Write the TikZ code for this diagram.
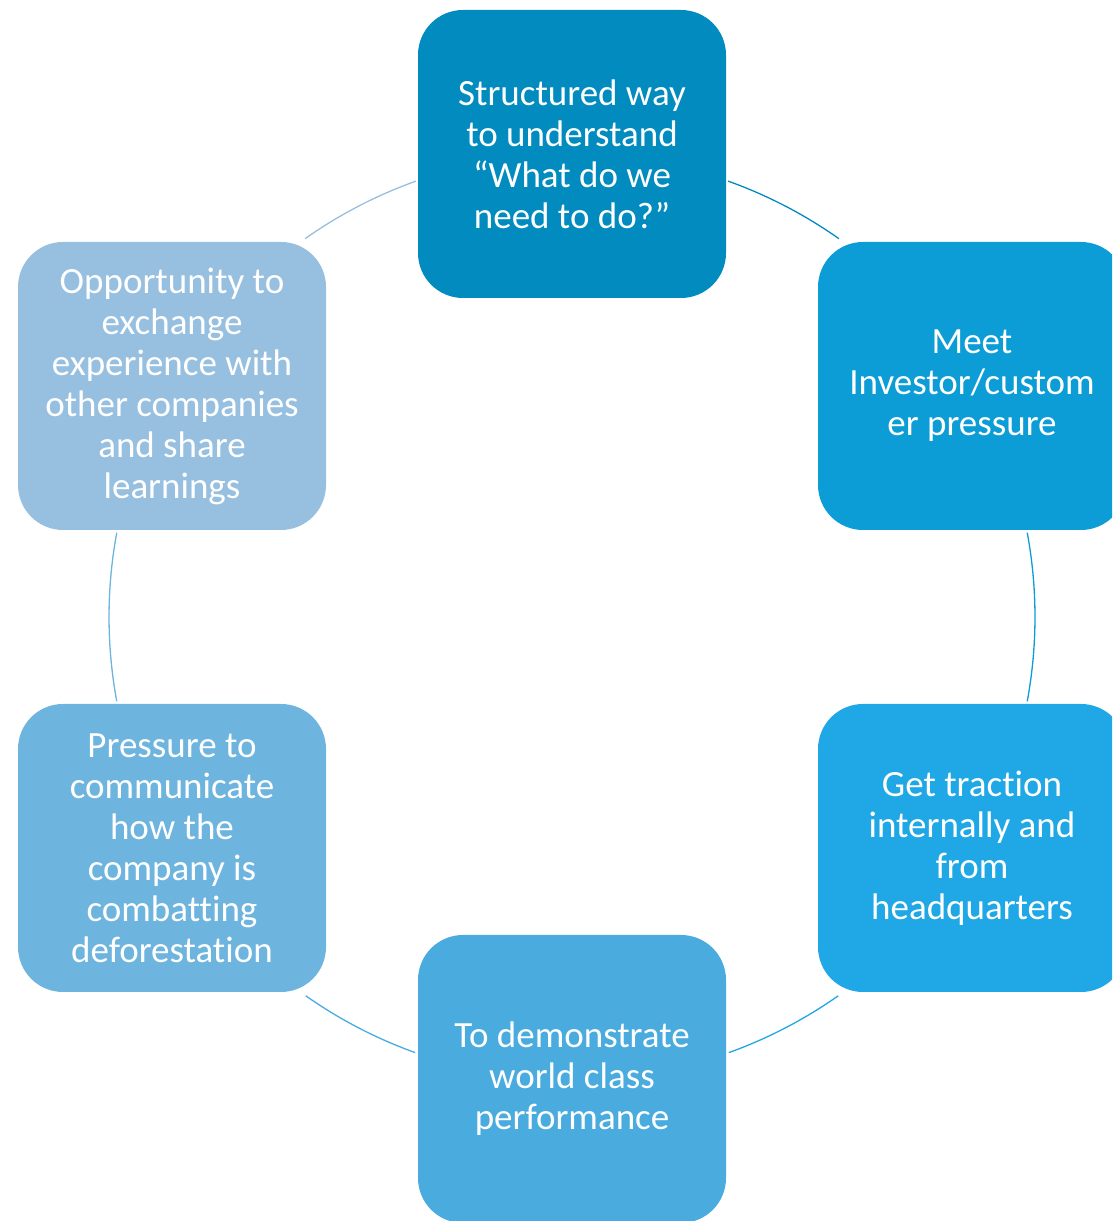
\documentclass[tikz,border=0pt]{standalone}
\usepackage{fontspec}
\setmainfont{Carlito}[RawFeature={-liga;-clig;-calt;-dlig}]
\definecolor{cA}{HTML}{028BBE}
\definecolor{cB}{HTML}{0C9DD6}
\definecolor{cC}{HTML}{1FA8E5}
\definecolor{cD}{HTML}{4AABDF}
\definecolor{cE}{HTML}{6DB4DE}
\definecolor{cF}{HTML}{97C0E0}
\begin{document}
\begin{tikzpicture}[x=1pt,y=1pt,
  cyclebox/.style={rectangle, rounded corners=45pt, minimum width=308pt,
    minimum height=288pt, inner sep=0pt, align=center, text=white,
    font=\fontsize{37}{41}\selectfont},
  link/.style={line width=1.3pt}]
\useasboundingbox (0,0) rectangle (1112,1221);
\clip (0,0) rectangle (1112,1221);
\coordinate (c) at (572,604);
\def\R{463}
% connecting arcs on the ring, each in the colour of the box it leaves
\draw[link, cA] ([shift={(c)}]70.3:\R) arc[start angle=70.3, end angle=54.8, radius=\R];
\draw[link, cB] ([shift={(c)}]10.5:\R) arc[start angle=10.5, end angle=-10.5, radius=\R];
\draw[link, cC] ([shift={(c)}]-54.9:\R) arc[start angle=-54.9, end angle=-70.2, radius=\R];
\draw[link, cD] ([shift={(c)}]-109.8:\R) arc[start angle=-109.8, end angle=-125.1, radius=\R];
\draw[link, cE] ([shift={(c)}]-169.5:\R) arc[start angle=-169.5, end angle=-190.5, radius=\R];
\draw[link, cF] ([shift={(c)}]125.2:\R) arc[start angle=125.2, end angle=109.7, radius=\R];
% the six boxes
\node[cyclebox, fill=cA] (n1) at (572,1067) {Structured way\\to understand\\“What do we\\need to do?”};
\node[cyclebox, fill=cB] (n2) at (972,835) {Meet\\Investor/custom\\er pressure};
\node[cyclebox, fill=cC] (n3) at (972,373) {Get traction\\internally and\\from\\headquarters};
\node[cyclebox, fill=cD] (n4) at (572,142) {To demonstrate\\world class\\performance};
\node[cyclebox, fill=cE] (n5) at (172,373) {Pressure to\\communicate\\how the\\company is\\combatting\\deforestation};
\node[cyclebox, fill=cF] (n6) at (172,835) {Opportunity to\\exchange\\experience with\\other companies\\and share\\learnings};
\end{tikzpicture}
\end{document}
